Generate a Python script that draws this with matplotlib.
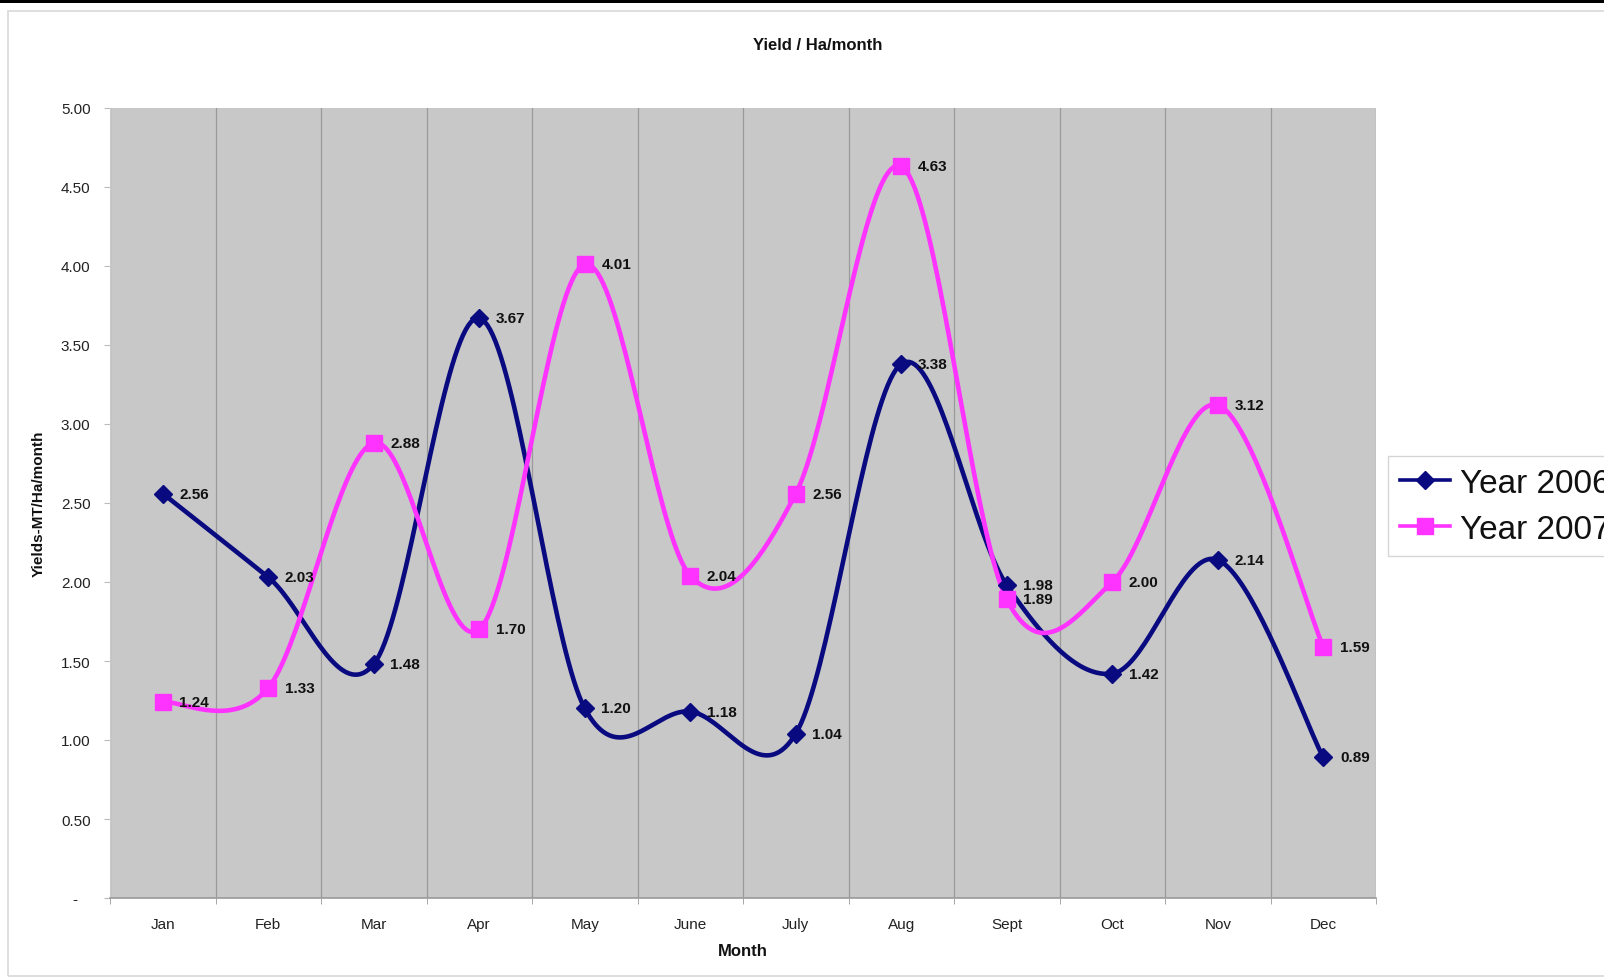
import numpy as np
import matplotlib
matplotlib.use("Agg")
import matplotlib.pyplot as plt
from matplotlib.patches import Rectangle

months = ["Jan", "Feb", "Mar", "Apr", "May", "June", "July", "Aug", "Sept", "Oct", "Nov", "Dec"]
year_2006 = [2.56, 2.03, 1.48, 3.67, 1.20, 1.18, 1.04, 3.38, 1.98, 1.42, 2.14, 0.89]
year_2007 = [1.24, 1.33, 2.88, 1.70, 4.01, 2.04, 2.56, 4.63, 1.89, 2.00, 3.12, 1.59]
y_ticks = [0, 0.5, 1.0, 1.5, 2.0, 2.5, 3.0, 3.5, 4.0, 4.5, 5.0]
y_tick_labels = ["-   "] + [f"{v:.2f}" for v in y_ticks[1:]]

plt.rcParams['font.family'] = ['Liberation Sans', 'DejaVu Sans']

W, H = 1604, 979
fig = plt.figure(figsize=(W / 100, H / 100), dpi=100)
fig.patch.set_facecolor("white")

# chart frame and top black band
fig.add_artist(Rectangle((8 / W, 1 - 977 / H), 1.2, (977 - 12) / H, transform=fig.transFigure,
                         facecolor="none", edgecolor="#d8d8d8", lw=1.2))
fig.add_artist(Rectangle((0, 1 - 4 / H), 1, 4 / H, transform=fig.transFigure,
                         facecolor="black", edgecolor="none"))

left, right, top, bottom = 110, 1376, 109, 899
ax = fig.add_axes([left / W, 1 - bottom / H, (right - left) / W, (bottom - top) / H])
ax.set_facecolor("#c8c8c8")


def smooth(xs, ys, n=40):
    pts = np.column_stack([xs, ys]).astype(float)
    out = [pts[0]]
    m = len(pts)
    for i in range(m - 1):
        p0 = pts[i - 1] if i > 0 else pts[i]
        p1 = pts[i]
        p2 = pts[i + 1]
        p3 = pts[i + 2] if i + 2 < m else pts[i + 1]
        c1 = p1 + (p2 - p0) / 6.0
        c2 = p2 - (p3 - p1) / 6.0
        t = np.linspace(0, 1, n)[1:, None]
        seg = ((1 - t) ** 3) * p1 + 3 * ((1 - t) ** 2) * t * c1 + 3 * (1 - t) * t ** 2 * c2 + t ** 3 * p2
        out.extend(seg)
    out = np.array(out)
    return out[:, 0], out[:, 1]


x = np.arange(len(months))
series = [
    (year_2006, "#0a0a80", "D", 9, "Year 2006"),
    (year_2007, "#ff33ff", "s", 12, "Year 2007"),
]
handles = []
for vals, col, mk, ms, lab in series:
    sx, sy = smooth(x, vals)
    ax.plot(sx, sy, color=col, lw=3.3, solid_capstyle="round", zorder=3)
    ax.plot(x, vals, linestyle="none", marker=mk, ms=ms, color=col, zorder=4)
    h, = ax.plot([], [], color=col, lw=2.6, marker=mk, ms=ms, label=lab)
    handles.append(h)
    for xi, v in zip(x, vals):
        ax.annotate(f"{v:.2f}", (xi, v), xytext=(12, 0), textcoords="offset points",
                    ha="left", va="center", fontsize=11, fontweight="bold", color="#111111", zorder=5)

ax.set_xlim(-0.5, len(months) - 0.5)
ax.set_ylim(0, 5)
ax.set_yticks(y_ticks)
ax.set_yticklabels(y_tick_labels, fontsize=11, color="#222222")
ax.set_xticks(x)
ax.set_xticklabels(months, fontsize=11, color="#222222")
ax.set_xticks(np.arange(len(months) + 1) - 0.5, minor=True)
ax.tick_params(axis="x", which="major", length=0, pad=14)
ax.tick_params(axis="x", which="minor", length=4, color="#999999", direction="out")
ax.tick_params(axis="y", length=4, color="#bbbbbb", pad=10)
ax.grid(True, which="minor", axis="x", color="#9a9a9a", lw=0.9)
ax.set_axisbelow(True)
for s in ["top", "right"]:
    ax.spines[s].set_visible(False)
ax.spines["left"].set_color("#cccccc")
ax.spines["bottom"].set_color("#999999")
ax.spines["bottom"].set_linewidth(1.2)

fig.text(818 / W, 1 - 46 / H, "Yield / Ha/month", ha="center", va="center",
         fontsize=12, fontweight="bold", color="#111111")
fig.text(743 / W, 1 - 952 / H, "Month", ha="center", va="center",
         fontsize=12, fontweight="bold", color="#111111")
fig.text(39 / W, 1 - 504 / H, "Yields-MT/Ha/month", ha="center", va="center", rotation=90,
         fontsize=11, fontweight="bold", color="#111111")

leg = fig.legend(handles=handles, loc="upper left", bbox_to_anchor=(1388 / W, 1 - 457 / H),
                 bbox_transform=fig.transFigure, fontsize=24, frameon=True, fancybox=False,
                 borderpad=0.35, handlelength=1.5, handletextpad=0.3, labelspacing=0.45,
                 borderaxespad=0)
leg.get_frame().set_edgecolor("#cccccc")
leg.get_frame().set_linewidth(1.0)
for t in leg.get_texts():
    t.set_color("#111111")

fig.savefig("out.png", dpi=100)
